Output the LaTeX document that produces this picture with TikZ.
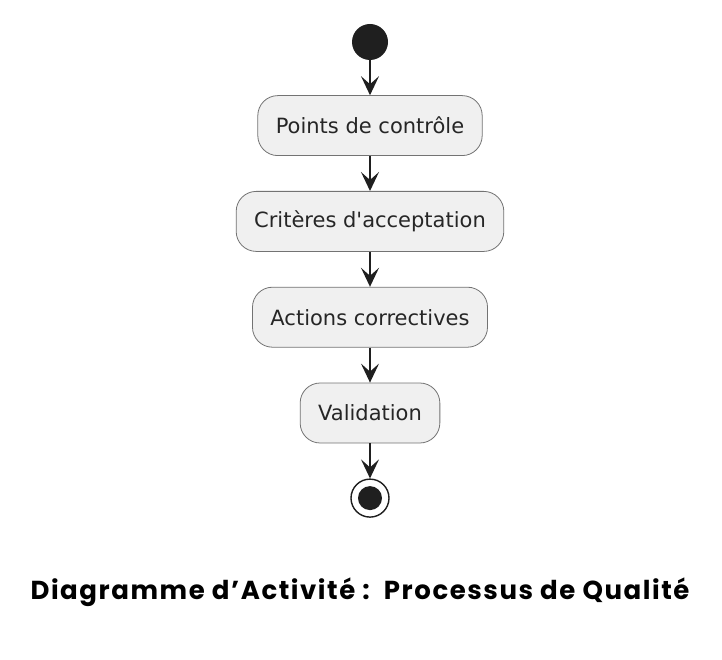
\documentclass[tikz,border=0pt]{standalone}
\usepackage{fontspec}
\setsansfont{DejaVu Sans}
\newfontfamily\titlefont{Poppins}[LetterSpace=6]
\usetikzlibrary{shapes, arrows.meta, positioning}

\begin{document}
\begin{tikzpicture}[x=1pt, y=1pt, node distance=35pt, every node/.style={font=\sffamily, align=center}]
        \tikzstyle{startnode} = [circle, fill=black!88, minimum size=36pt, inner sep=0pt]
        \tikzstyle{stopnode} = [circle, draw=black!88, line width=1.4pt, fill=white, minimum size=38pt, inner sep=0pt]
        \tikzstyle{stopdot} = [circle, fill=black!88, minimum size=24pt, inner sep=0pt]
        \tikzstyle{activity} = [rectangle, rounded corners=20pt, minimum height=60pt, inner xsep=18pt, text centered, draw=black!55, line width=0.8pt, fill=black!6, text=black!85, font=\sffamily\fontsize{21}{25}\selectfont]
        \tikzstyle{arrow} = [line width=1.4pt, draw=black!88, -{Stealth[length=19pt, width=18pt, inset=8pt]}]

        \useasboundingbox (0,0) rectangle (722,-660);

        % Nodes
        \node (start) [startnode] at (370,-42) {};
        \node (points) [activity, below=of start] {Points de contrôle};
        \node (criteres) [activity, below=of points] {Critères d\textquotesingle acceptation};
        \node (actions) [activity, below=of criteres] {Actions correctives};
        \node (valid) [activity, below=of actions] {Validation};
        \node (stop) [stopnode, below=of valid] {};
        \node (stopin) [stopdot] at (stop) {};

        \node (title) at (360,-592) {\titlefont\bfseries\fontsize{26}{30}\selectfont Diagramme d’Activité :\ \ Processus de Qualité};

        % Connections
        \draw [arrow] (start) -- (points);
        \draw [arrow] (points) -- (criteres);
        \draw [arrow] (criteres) -- (actions);
        \draw [arrow] (actions) -- (valid);
        \draw [arrow] (valid) -- (stop);
\end{tikzpicture}
\end{document}
